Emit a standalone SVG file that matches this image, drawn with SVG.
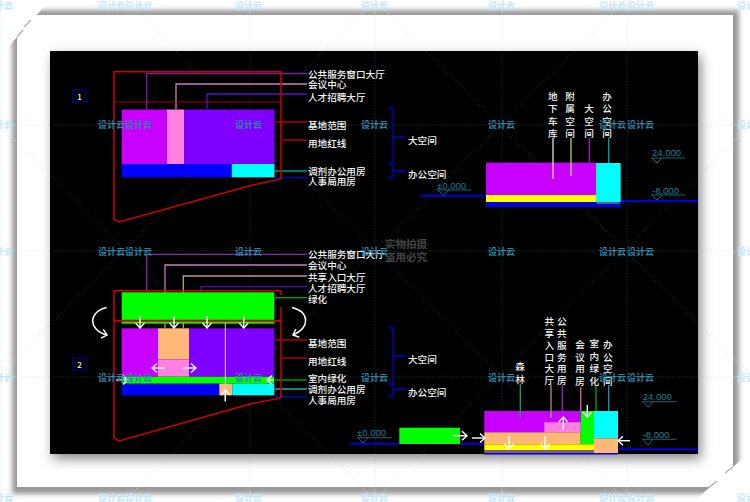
<svg xmlns="http://www.w3.org/2000/svg" width="750" height="502" viewBox="0 0 750 502">
<style>
text{font-family:"Noto Sans CJK SC","Liberation Sans",sans-serif;dominant-baseline:central}
.l{font-size:9.6px;fill:#f4f4f4;font-weight:500}
.v{font-size:9.6px;fill:#f4f4f4;text-anchor:middle;font-weight:500}
.e{font-size:9.5px;fill:#1f7f95;font-family:"Liberation Sans",sans-serif}
.wo{font-size:9px;fill:#bfe8fa;font-weight:bold}
.wi{font-size:9px;fill:#2f86a8;font-weight:bold}
.m{font-size:10.5px;fill:#454545;font-weight:bold}
.n{fill:none;stroke-width:1.3}
.ar{fill:none;stroke:#fff;stroke-width:1.4;marker-end:url(#a)}
.lat{fill:none;stroke-width:.7;stroke-dasharray:1.5 1.5}
.mk{fill:none;stroke:#1a6f85;stroke-width:.9}
.g{stroke:#0000e0;stroke-width:2;fill:none}
</style>
<defs>
<marker id="a" viewBox="0 0 10 10" refX="9" refY="5" markerWidth="10" markerHeight="10" markerUnits="userSpaceOnUse" orient="auto"><path d="M4 .5L9 5L4 9.500" fill="none" stroke="#fff" stroke-width="1.4"/></marker>
<filter id="b1" x="-10%" y="-10%" width="120%" height="120%"><feGaussianBlur stdDeviation="2.5"/></filter>
<filter id="b2" x="-10%" y="-10%" width="120%" height="120%"><feGaussianBlur stdDeviation="6"/></filter>
<clipPath id="k"><rect x="50" y="51" width="648" height="403"/></clipPath>
<path id="lattice" d="M125 0L625 500M375 0L750 375M0 125L375 500M625 0L125 500M375 0L0 375M750 125L375 500M250 0V502M375 0V502M502 0V502M627 0V502M1 0V502M0 125H750M0 251H750M0 377H750"/>
</defs>
<g id="page">
<rect width="750" height="502" fill="#fff"/>
<rect x="12" y="10" width="727" height="484" fill="#999" filter="url(#b1)"/>
<rect x="17" y="15" width="716" height="472" fill="#fff"/>
<polygon points="0,0 50,0 0,56" fill="#fff"/>
<path d="M24 27L31 20M17 37L23 30" stroke="#aaa" stroke-width="1.200"/>
<polygon points="750,452 750,502 693,502" fill="#fff"/>
<path d="M725 473L733 467M708 488L717 481" stroke="#aaa" stroke-width="1.200"/>
<use href="#lattice" class="lat" stroke="#cdeaf6"/>
<rect x="53" y="56" width="648" height="403" fill="#888" filter="url(#b2)"/>
<rect x="50" y="51" width="648" height="403" fill="#000"/>
<use href="#lattice" class="lat" stroke="#123c4c" clip-path="url(#k)"/>
</g>
<g id="connectors">
<g class="n">
<path d="M146.700 109V73.500H307" stroke="#7a1fa0"/>
<path d="M176 109V84H307" stroke="#d080c0"/>
<path d="M207 109V94H307" stroke="#5a10c0"/>
<path d="M275 122H307" stroke="#d00000"/>
<path d="M281 140H307" stroke="#d00000"/>
<path d="M275 171H307" stroke="#00b0a0"/>
<path d="M275 177.700H307" stroke="#0000d0"/>
<path d="M388 108H393V178H388M393 137H406M388 163.500H393M393 171H406" stroke="#0000d0"/>
<path d="M146.700 292V254.300H307" stroke="#8030a0"/>
<path d="M165 328V265H307" stroke="#c080c0"/>
<path d="M183.300 328V276H307" stroke="#c0a070"/>
<path d="M201 292V286.700H307" stroke="#5010b0"/>
<path d="M275 297.700H307" stroke="#00b000"/>
<path d="M275 340H307" stroke="#d00000"/>
<path d="M281 358H307" stroke="#d00000"/>
<path d="M275 380H307" stroke="#00b000"/>
<path d="M275 389H307" stroke="#30c0c0"/>
<path d="M275 396.700H307" stroke="#0000d0"/>
<path d="M388 328H393V396H388M393 356H406M388 384H393M393 389H406" stroke="#0000d0"/>
</g>
</g>
<g id="plan-1">
<rect x="121.700" y="109.500" width="45.300" height="54.500" fill="#c800ff"/>
<rect x="167" y="109.500" width="17" height="54.500" fill="#ff80e0"/>
<rect x="184" y="109.500" width="90.500" height="54.500" fill="#7f00ff"/>
<rect x="121.700" y="164" width="110" height="13.300" fill="#0000ff"/>
<rect x="231.700" y="164" width="42.800" height="13.300" fill="#00ffff"/>
<path d="M114 71.700H281V179L250 185.700L119 222L114 219Z" fill="none" stroke="#d00000" stroke-width="1.500"/>
<path d="M114 102H281" stroke="#d00000" stroke-width=".8"/>
</g>
<g id="tag-1"><rect x="73" y="90" width="13" height="12" fill="none" stroke="#0000b0"/><text x="79.500" y="96" class="v" style="font-size:8px">1</text></g>
<g id="plan-2">
<path d="M281 295V290.700H114V438L119 441L250 404L281 398V307" fill="none" stroke="#d00000" stroke-width="1.500"/>
<rect x="121.700" y="292.300" width="152.600" height="31" fill="#00ff00"/>
<path d="M114 320.700H281" stroke="#d00000" stroke-width="2"/>
<path d="M121.700 322.700H274.300" stroke="#00ff00" stroke-width="1.400"/>
<rect x="121.700" y="328.300" width="36.300" height="48.400" fill="#c800ff"/>
<rect x="158" y="328.300" width="31.300" height="31" fill="#ffb878"/>
<rect x="158" y="359.300" width="31.300" height="17.400" fill="#ff80e0"/>
<rect x="189.300" y="328.300" width="85" height="48.400" fill="#7f00ff"/>
<rect x="121.700" y="376.700" width="152.600" height="7" fill="#00ff00"/>
<rect x="121.700" y="383.700" width="97.600" height="11.600" fill="#0000ff"/>
<rect x="219.300" y="383.700" width="13" height="11.600" fill="#ffb878"/>
<rect x="232.300" y="383.700" width="42" height="11.600" fill="#00ffff"/>
<path d="M225.300 323V401.700" stroke="#e8c8e8" stroke-width="1"/>
<path class="ar" d="M140 316V328"/><path class="ar" d="M174 316V328"/><path class="ar" d="M207 316V328"/><path class="ar" d="M243.700 316V328"/>
<path class="ar" d="M165 368H152"/><path class="ar" d="M183 368H196"/>
<path class="ar" d="M225.300 401V390"/><path class="ar" d="M116 380H128"/><path class="ar" d="M274 380H267"/>
<path class="ar" d="M106.500 307.500C88 312 88 330 107 335"/>
<path class="ar" d="M292 307.500C310 312 310 328 293 335"/>
</g>
<g id="tag-2"><rect x="73" y="358" width="13" height="12" fill="none" stroke="#0000b0"/><text x="79.500" y="364" class="v" style="font-size:8px">2</text></g>
<g id="section-1">
<path class="g" d="M420 195.700H486M621 201H698"/>
<rect x="486" y="162.700" width="110" height="32.300" fill="#c800ff"/>
<rect x="486" y="195" width="111" height="7" fill="#ffff00"/>
<rect x="486" y="202" width="135" height="5" fill="#0000e0"/>
<rect x="596.700" y="202" width="23" height="2" fill="#606080"/>
<rect x="596" y="163" width="24.700" height="39" fill="#00ffff"/>
<path class="n" d="M553 138V179" stroke="#e0e0e0"/>
<path class="n" d="M571 138V176" stroke="#d0c860"/>
<path class="n" d="M589.300 138V162" stroke="#a020c0"/>
<path class="n" d="M608.700 138V163" stroke="#00a0b0"/>
</g>
<g id="section-2">
<path class="g" d="M350 443.700H399M460 443.700H484M618 449.300H698"/>
<rect x="399.300" y="427.700" width="60.700" height="16.300" fill="#00ff00"/>
<rect x="484.300" y="411" width="96.400" height="21.300" fill="#c800ff"/>
<rect x="544.300" y="422.300" width="36.400" height="10" fill="#ff80e0"/>
<rect x="484.300" y="432.300" width="96.400" height="12" fill="#ffb878"/>
<rect x="580.700" y="411" width="13.300" height="33.300" fill="#00ff00"/>
<rect x="594" y="411" width="24" height="27.300" fill="#00ffff"/>
<rect x="594" y="438.300" width="24" height="15" fill="#ffb878"/>
<rect x="484.300" y="444.300" width="109.700" height="5.700" fill="#ffff00"/>
<rect x="484.300" y="450" width="109.700" height="3" fill="#806070"/>
<path d="M484 453.700H618" stroke="#0000e0" stroke-width="1.500"/>
<path class="n" d="M520.300 384V418" stroke="#20a050"/>
<path class="n" d="M551 385V418" stroke="#b09080"/>
<path class="n" d="M562.300 385V411" stroke="#a020c0"/>
<path class="n" d="M580.700 387V411" stroke="#e060a0"/>
<path class="n" d="M596 385V411" stroke="#00b000"/>
<path class="n" d="M608.700 385V411" stroke="#10a0b0"/>
<path class="ar" d="M453 435.700H467"/><path class="ar" d="M472 438H485"/><path class="ar" d="M587.300 405V417"/><path class="ar" d="M563.300 430V417"/><path class="ar" d="M509 436V449"/><path class="ar" d="M545 436V449"/><path class="ar" d="M630 440.700H618"/>
</g>
<g id="levels">
<path class="mk" d="M437 190H471M438 190L443.500 195L449 190"/><text x="437" y="185" class="e">±0.000</text>
<path class="mk" d="M651 158H685M652 158L657 163L662 158"/><text x="652" y="152" class="e">24.000</text>
<path class="mk" d="M651 195H685M652 195L657 200L662 195"/><text x="652" y="190" class="e">-8.000</text>
<path class="mk" d="M357 437.700H391.700M358 437.700L363 443L368 437.700"/><text x="357" y="432.700" class="e">±0.000</text>
<path class="mk" d="M642.700 401.700H676.700M643 401.700L648 407L653 401.700"/><text x="642.700" y="396.700" class="e">24.000</text>
<path class="mk" d="M642.700 439.300H676.700M643 439.300L648 445L653 439.300"/><text x="642.700" y="434" class="e">-8.000</text>
</g>
<g id="labels-1">
<text x="308" y="74" class="l">公共服务窗口大厅</text><text x="308" y="84" class="l">会议中心</text><text x="308" y="97" class="l">人才招聘大厅</text><text x="308" y="125" class="l">基地范围</text><text x="308" y="143" class="l">用地红线</text><text x="308" y="171" class="l">调剂办公用房</text><text x="308" y="181" class="l">人事局用房</text>
<text x="408" y="140" class="l">大空间</text><text x="408" y="174" class="l">办公空间</text>
</g>
<g id="labels-2">
<text x="308" y="253.700" class="l">公共服务窗口大厅</text><text x="308" y="265" class="l">会议中心</text><text x="308" y="276.700" class="l">共享入口大厅</text><text x="308" y="287.700" class="l">人才招聘大厅</text><text x="308" y="298.700" class="l">绿化</text><text x="308" y="343" class="l">基地范围</text><text x="308" y="361" class="l">用地红线</text><text x="308" y="377.700" class="l">室内绿化</text><text x="308" y="389" class="l">调剂办公用房</text><text x="308" y="399.700" class="l">人事局用房</text>
<text x="408" y="358.500" class="l">大空间</text><text x="408" y="391.500" class="l">办公空间</text>
</g>
<g id="vlabels-1">
<text class="v" x="552.700" y="96">地</text><text class="v" x="552.700" y="108">下</text><text class="v" x="552.700" y="121">车</text><text class="v" x="552.700" y="133">库</text>
<text class="v" x="570" y="96">附</text><text class="v" x="570" y="108">属</text><text class="v" x="570" y="121">空</text><text class="v" x="570" y="133">间</text>
<text class="v" x="589" y="108">大</text><text class="v" x="589" y="121">空</text><text class="v" x="589" y="133">间</text>
<text class="v" x="607" y="96">办</text><text class="v" x="607" y="108">公</text><text class="v" x="607" y="121">空</text><text class="v" x="607" y="133">间</text>
</g>
<g id="vlabels-2">
<text class="v" x="520" y="366.300">森</text><text class="v" x="520" y="378.700">林</text>
<text class="v" x="549.300" y="320.700">共</text><text class="v" x="549.300" y="332.700">享</text><text class="v" x="549.300" y="345">入</text><text class="v" x="549.300" y="356.700">口</text><text class="v" x="549.300" y="368.300">大</text><text class="v" x="549.300" y="380">厅</text>
<text class="v" x="561.700" y="320.700">公</text><text class="v" x="561.700" y="332.700">共</text><text class="v" x="561.700" y="345">服</text><text class="v" x="561.700" y="356.700">务</text><text class="v" x="561.700" y="368.300">用</text><text class="v" x="561.700" y="380">房</text>
<text class="v" x="580" y="344.300">会</text><text class="v" x="580" y="356.700">议</text><text class="v" x="580" y="368.300">用</text><text class="v" x="580" y="381">房</text>
<text class="v" x="594.300" y="343.300">室</text><text class="v" x="594.300" y="356">内</text><text class="v" x="594.300" y="368.300">绿</text><text class="v" x="594.300" y="380.500">化</text>
<text class="v" x="607.700" y="344">办</text><text class="v" x="607.700" y="356.700">公</text><text class="v" x="607.700" y="368.300">空</text><text class="v" x="607.700" y="381">间</text>
</g>
<g id="watermarks">
<text x="-14" y="5" class="wo">设计云</text><text x="98" y="5" class="wo">设计云</text><text x="125" y="5" class="wo">设计云</text><text x="235" y="5" class="wo">设计云</text><text x="361" y="5" class="wo">设计云</text><text x="488" y="5" class="wo">设计云</text><text x="599" y="5" class="wo">设计云</text><text x="627" y="5" class="wo">设计云</text><text x="737" y="5" class="wo">设计云</text>
<text x="-14" y="124" class="wo">设计云</text><text x="98" y="124" class="wi">设计云</text><text x="125" y="124" class="wi">设计云</text><text x="235" y="124" class="wi">设计云</text><text x="361" y="124" class="wi">设计云</text><text x="488" y="124" class="wi">设计云</text><text x="599" y="124" class="wi">设计云</text><text x="627" y="124" class="wi">设计云</text><text x="737" y="124" class="wo">设计云</text>
<text x="-14" y="251" class="wo">设计云</text><text x="98" y="251" class="wi">设计云</text><text x="125" y="251" class="wi">设计云</text><text x="235" y="251" class="wi">设计云</text><text x="361" y="251" class="wi">设计云</text><text x="488" y="251" class="wi">设计云</text><text x="599" y="251" class="wi">设计云</text><text x="627" y="251" class="wi">设计云</text><text x="737" y="251" class="wo">设计云</text>
<text x="-14" y="377" class="wo">设计云</text><text x="98" y="377" class="wi">设计云</text><text x="125" y="377" class="wi">设计云</text><text x="235" y="377" class="wi">设计云</text><text x="361" y="377" class="wi">设计云</text><text x="488" y="377" class="wi">设计云</text><text x="599" y="377" class="wi">设计云</text><text x="627" y="377" class="wi">设计云</text><text x="737" y="377" class="wo">设计云</text>
<text x="-14" y="497" class="wo">设计云</text><text x="98" y="497" class="wo">设计云</text><text x="125" y="497" class="wo">设计云</text><text x="235" y="497" class="wo">设计云</text><text x="361" y="497" class="wo">设计云</text><text x="488" y="497" class="wo">设计云</text><text x="599" y="497" class="wo">设计云</text><text x="627" y="497" class="wo">设计云</text><text x="737" y="497" class="wo">设计云</text>
<text x="385" y="243" class="m">实物拍摄</text><text x="385" y="256" class="m">盗用必究</text>
</g>
</svg>
